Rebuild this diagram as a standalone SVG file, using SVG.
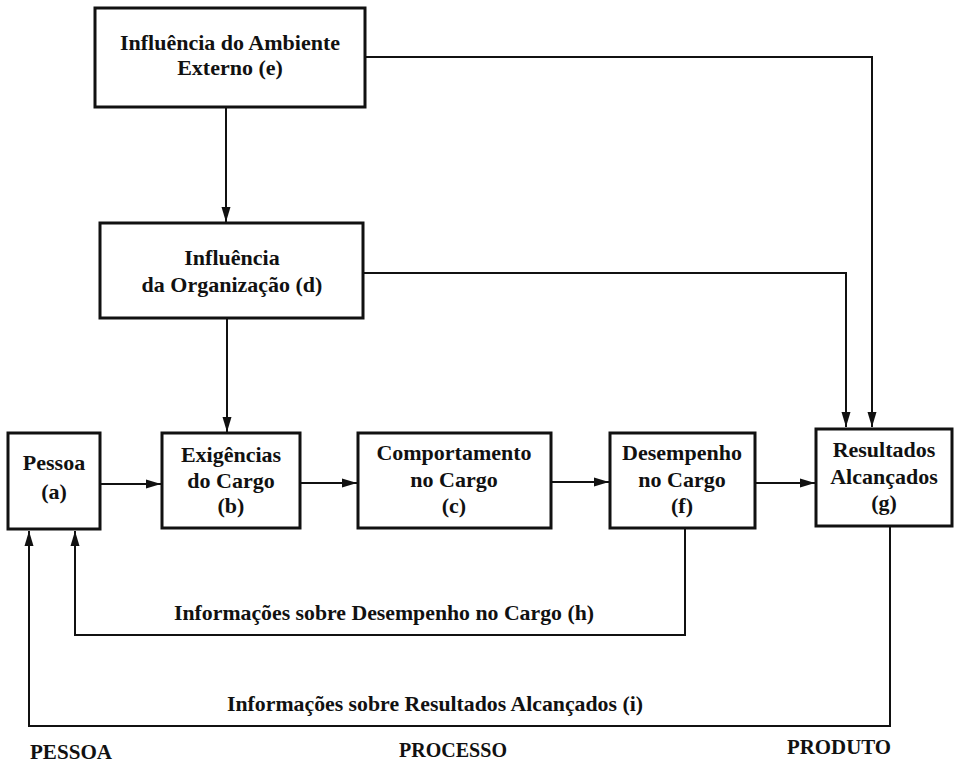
<svg xmlns="http://www.w3.org/2000/svg" width="955" height="765" viewBox="0 0 955 765">
<defs>
<style>
.box{fill:#fff;stroke:#111;stroke-width:3}
.lbl{font-family:"Liberation Serif","Times New Roman",serif;font-weight:bold;font-size:22px;fill:#111;text-anchor:middle}
.cap{font-family:"Liberation Serif","Times New Roman",serif;font-weight:bold;font-size:21px;fill:#111;text-anchor:middle}
.con{fill:none;stroke:#111;stroke-width:2}
</style>
<marker id="ah" markerUnits="userSpaceOnUse" markerWidth="16" markerHeight="10" refX="15" refY="5" orient="auto">
<path d="M0,0.5 L15,5 L0,9.5 z" fill="#111"/>
</marker>
</defs>
<rect width="955" height="765" fill="#fff"/>
<g id="connectors">
<path class="con" d="M226,107 V222" marker-end="url(#ah)"/>
<path class="con" d="M227,318 V432" marker-end="url(#ah)"/>
<path class="con" d="M365,57 H872 V427" marker-end="url(#ah)"/>
<path class="con" d="M363,273 H846 V427" marker-end="url(#ah)"/>
<path class="con" d="M100,484 H161" marker-end="url(#ah)"/>
<path class="con" d="M300,483 H357" marker-end="url(#ah)"/>
<path class="con" d="M551,482 H609" marker-end="url(#ah)"/>
<path class="con" d="M755,483 H815" marker-end="url(#ah)"/>
<path class="con" d="M685,528 V635 H75 V531" marker-end="url(#ah)"/>
<path class="con" d="M890,526 V726 H29 V531" marker-end="url(#ah)"/>
</g>
<g id="node-e">
<rect class="box" x="95" y="8" width="270" height="99"/>
<text class="lbl" x="230" y="50">Influência do Ambiente</text>
<text class="lbl" x="230" y="75">Externo (e)</text>
</g>
<g id="node-d">
<rect class="box" x="100" y="223" width="263" height="95"/>
<text class="lbl" x="232" y="265">Influência</text>
<text class="lbl" x="232" y="292">da Organização (d)</text>
</g>
<g id="node-a">
<rect class="box" x="8" y="433" width="92" height="96"/>
<text class="lbl" x="54" y="470">Pessoa</text>
<text class="lbl" x="54" y="499">(a)</text>
</g>
<g id="node-b">
<rect class="box" x="162" y="433" width="138" height="95"/>
<text class="lbl" x="231" y="462">Exigências</text>
<text class="lbl" x="231" y="488">do Cargo</text>
<text class="lbl" x="231" y="513">(b)</text>
</g>
<g id="node-c">
<rect class="box" x="358" y="433" width="193" height="95"/>
<text class="lbl" x="454" y="460">Comportamento</text>
<text class="lbl" x="454" y="487">no Cargo</text>
<text class="lbl" x="454" y="513">(c)</text>
</g>
<g id="node-f">
<rect class="box" x="610" y="433" width="145" height="95"/>
<text class="lbl" x="682" y="460">Desempenho</text>
<text class="lbl" x="682" y="487">no Cargo</text>
<text class="lbl" x="682" y="513">(f)</text>
</g>
<g id="node-g">
<rect class="box" x="816" y="429" width="136" height="97"/>
<text class="lbl" x="884" y="457">Resultados</text>
<text class="lbl" x="884" y="484">Alcançados</text>
<text class="lbl" x="884" y="510">(g)</text>
</g>
<g id="labels">
<text class="cap" x="384" y="620" textLength="420" lengthAdjust="spacingAndGlyphs">Informações sobre Desempenho no Cargo (h)</text>
<text class="cap" x="435" y="711" textLength="416" lengthAdjust="spacingAndGlyphs">Informações sobre Resultados Alcançados (i)</text>
<text class="cap" x="71" y="759" textLength="82" lengthAdjust="spacingAndGlyphs">PESSOA</text>
<text class="cap" x="453" y="757" textLength="108" lengthAdjust="spacingAndGlyphs">PROCESSO</text>
<text class="cap" x="839" y="754" textLength="104" lengthAdjust="spacingAndGlyphs">PRODUTO</text>
</g>
</svg>
